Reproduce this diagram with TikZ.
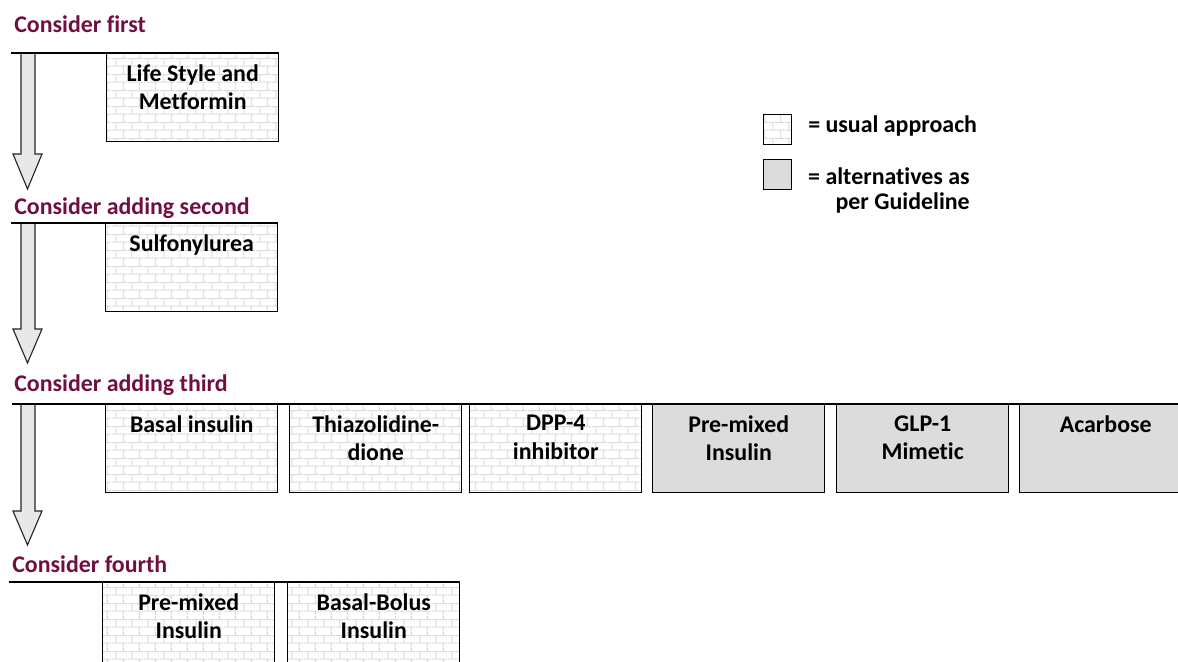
\documentclass[tikz,border=0pt]{standalone}
\usepackage{fontspec}
\setmainfont[Ligatures=NoCommon]{Carlito}
\usetikzlibrary{patterns}

\definecolor{steptext}{HTML}{700F40}
\definecolor{altgray}{HTML}{DCDCDC}
\definecolor{arrowgray}{HTML}{E8E8E8}

% brick fill for the usual approach
\pgfdeclarepatternformonly{brickwall}{\pgfpointorigin}{\pgfpoint{11.4pt}{11.4pt}}{\pgfpoint{11.4pt}{11.4pt}}{%
  \pgfsetlinewidth{0.8pt}
  \pgfpathmoveto{\pgfpoint{0pt}{2.85pt}}\pgfpathlineto{\pgfpoint{11.4pt}{2.85pt}}
  \pgfpathmoveto{\pgfpoint{0pt}{8.55pt}}\pgfpathlineto{\pgfpoint{11.4pt}{8.55pt}}
  \pgfpathmoveto{\pgfpoint{2.85pt}{2.85pt}}\pgfpathlineto{\pgfpoint{2.85pt}{8.55pt}}
  \pgfpathmoveto{\pgfpoint{8.55pt}{8.55pt}}\pgfpathlineto{\pgfpoint{8.55pt}{11.4pt}}
  \pgfpathmoveto{\pgfpoint{8.55pt}{0pt}}\pgfpathlineto{\pgfpoint{8.55pt}{2.85pt}}
  \pgfusepath{stroke}
}

\tikzset{
  steplabel/.style={anchor=base west, inner sep=0pt, text=steptext,
    font=\fontsize{17}{20}\selectfont\bfseries},
  drugbox/.style={draw=black, line width=1pt, anchor=north west,
    minimum width=4.3cm, minimum height=2.2cm, inner sep=0pt},
  usual/.style={drugbox, pattern=brickwall, pattern color=black!14},
  alternative/.style={drugbox, fill=altgray},
  drugtext/.style={anchor=north, align=center, inner sep=0pt, yshift=-0.28cm,
    font=\fontsize{17}{20}\selectfont\bfseries},
  legendtext/.style={inner sep=0pt, font=\fontsize{17}{17.8}\selectfont\bfseries},
  rule/.style={line width=0.9pt},
  bigarrow/.style={draw=black!85, fill=arrowgray, line width=0.8pt}
}

\begin{document}
\begin{tikzpicture}[x=0.025cm, y=-0.025cm]
  \clip (0,0) rectangle (1178,662);

  % Block arrows between the steps
  \foreach \top/\neck/\tip in {53/154/189, 223/329/363, 404/511/545}
    \draw[bigarrow] (21,\top) -- (21,\neck) -- (13,\neck) -- (27.5,\tip)
      -- (42,\neck) -- (35,\neck) -- (35,\top) -- cycle;

  % Step 1
  \node[steplabel] (first) at (14,33) {Consider first};
  \node[usual] (lifestyle) at (106,53) {};
  \node[drugtext] (lifestyletext) at (lifestyle.north) {Life Style and\\Metformin};
  \coordinate (rowA) at (11,53);
  \draw[rule] (rowA) -- (lifestyle.north east);

  % Step 2
  \node[steplabel] (second) at (14,215) {Consider adding second};
  \node[usual] (sulfonyl) at (105,223) {};
  \node[drugtext] (sulfonyltext) at (sulfonyl.north) {Sulfonylurea};
  \coordinate (rowB) at (11,223);
  \draw[rule] (rowB) -- (sulfonyl.north east);

  % Step 3
  \node[steplabel] (third) at (14,392) {Consider adding third};
  \node[usual] (basal) at (105,404) {};
  \node[usual] (thiazol) at (289,404) {};
  \node[usual] (dpp) at (469,404) {};
  \node[alternative] (premixA) at (652,404) {};
  \node[alternative] (glp) at (836,404) {};
  \node[alternative] (acarbose) at (1019,404) {};
  \node[drugtext] (basaltext) at (basal.north) {Basal insulin};
  \node[drugtext] (thiazoltext) at (thiazol.north) {Thiazolidine-\\dione};
  \node[drugtext] (dpptext) at (dpp.north) {DPP-4\\inhibitor};
  \node[drugtext] (premixAtext) at (premixA.north) {Pre-mixed\\Insulin};
  \node[drugtext] (glptext) at (glp.north) {GLP-1\\Mimetic};
  \node[drugtext] (acarbosetext) at (acarbose.north) {Acarbose};
  \coordinate (rowC) at (12,404);
  \coordinate (rowCend) at (1178,404);
  \draw[rule] (rowC) -- (rowCend);

  % Step 4
  \node[steplabel] (fourth) at (12,572) {Consider fourth};
  \node[usual] (premixB) at (102,582) {};
  \node[usual] (bolus) at (287,582) {};
  \node[drugtext] (premixBtext) at (premixB.north) {Pre-mixed\\Insulin};
  \node[drugtext] (bolustext) at (bolus.north) {Basal-Bolus\\Insulin};
  \coordinate (rowD) at (9,582);
  \draw[rule] (rowD) -- (bolus.north east);

  % Legend
  \node[usual, minimum width=0.7cm, minimum height=0.75cm] (keyusual) at (763,114) {};
  \node[alternative, minimum width=0.7cm, minimum height=0.75cm] (keyalt) at (763,159) {};
  \node[legendtext, anchor=base west] (keyusualtext) at (808,133) {= usual approach};
  \node[legendtext, anchor=north east, align=right] (keyalttext) at (970,167)
    {= alternatives as\\per Guideline};
\end{tikzpicture}
\end{document}
